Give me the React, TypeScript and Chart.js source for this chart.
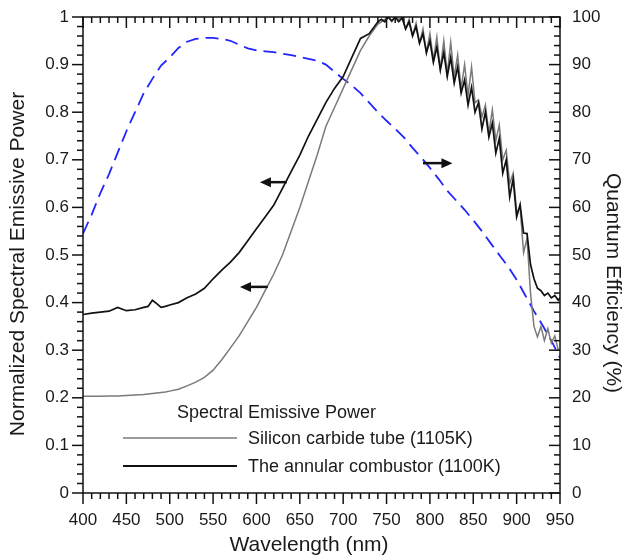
import React, { useEffect, useRef } from "react";
import { Chart, registerables } from "chart.js";
Chart.register(...registerables);

// Wavelength grid (nm) for the two spectral emissive power curves
const wavelengths = [
  400, 410, 420, 430, 440, 450, 460, 470, 475, 480, 485, 490, 495, 500,
  510, 520, 530, 540, 550, 560, 570, 580, 590, 600, 610, 620, 630, 640,
  650, 660, 670, 680, 690, 700, 710, 720, 730, 740,
  744, 748, 752, 756, 760, 764, 768, 772, 776, 780, 784, 788, 792, 796,
  800, 804, 808, 812, 816, 820, 824, 828, 832, 836, 840, 844, 848, 852,
  856, 860, 864, 868, 872, 876, 880, 884, 888, 892, 896, 900, 904, 908,
  912, 916, 920, 924, 928, 932, 936, 940, 944, 948, 950,
];

// The annular combustor (1100K)
const annularCombustor = [
  0.375, 0.378, 0.380, 0.382, 0.390, 0.383, 0.385, 0.390, 0.392, 0.405, 0.398, 0.390, 0.392, 0.395,
  0.400, 0.410, 0.418, 0.430, 0.450, 0.468, 0.485, 0.505, 0.530, 0.555, 0.580, 0.605, 0.640, 0.675,
  0.710, 0.750, 0.785, 0.820, 0.850, 0.875, 0.915, 0.955, 0.965, 0.990,
  0.995, 0.990, 1.000, 0.992, 1.000, 0.990, 0.998, 0.975, 0.990, 0.960, 0.980, 0.945, 0.965, 0.925,
  0.950, 0.905, 0.937, 0.889, 0.925, 0.875, 0.915, 0.861, 0.895, 0.840, 0.868, 0.815, 0.852, 0.800,
  0.820, 0.765, 0.800, 0.748, 0.777, 0.714, 0.745, 0.672, 0.700, 0.622, 0.660, 0.580, 0.606, 0.546,
  0.545, 0.480, 0.450, 0.430, 0.425, 0.415, 0.420, 0.410, 0.415, 0.405, 0.410,
];

// Silicon carbide tube (1105K)
const siliconCarbide = [
  0.203, 0.203, 0.203, 0.204, 0.204, 0.205, 0.206, 0.207, 0.208, 0.209, 0.210, 0.211, 0.212, 0.214,
  0.218, 0.225, 0.233, 0.243, 0.258, 0.280, 0.305, 0.330, 0.360, 0.390, 0.425, 0.460, 0.500, 0.550,
  0.600, 0.655, 0.710, 0.770, 0.810, 0.850, 0.890, 0.930, 0.960, 0.985,
  0.990, 0.995, 1.000, 0.990, 1.000, 0.995, 1.000, 0.975, 0.995, 0.962, 0.987, 0.945, 0.975, 0.925,
  0.965, 0.910, 0.958, 0.890, 0.950, 0.880, 0.947, 0.874, 0.920, 0.850, 0.900, 0.835, 0.895, 0.820,
  0.826, 0.790, 0.815, 0.756, 0.805, 0.740, 0.773, 0.700, 0.720, 0.650, 0.672, 0.590, 0.600, 0.505,
  0.535, 0.420, 0.350, 0.328, 0.350, 0.320, 0.345, 0.315, 0.330, 0.300, 0.300,
];

// Quantum efficiency (%) — right axis
const qeWavelengths = [
  400, 410, 420, 430, 440, 450, 460, 470, 480, 490, 500, 510, 520, 530, 540, 550, 560, 570, 580,
  590, 600, 610, 620, 630, 640, 650, 660, 670, 680, 690, 700, 710, 720, 730, 740, 750, 760, 770,
  780, 790, 800, 810, 820, 830, 840, 850, 860, 870, 880, 890, 900, 910, 920, 930, 940, 950,
];
const quantumEfficiency = [
  54.5, 58.5, 63, 67, 71.5, 76, 80, 84, 87, 89.8, 91.5, 93.5, 94.8, 95.4, 95.6, 95.6, 95.4, 95, 94.2,
  93.4, 93, 92.8, 92.6, 92.3, 92, 91.6, 91.2, 90.8, 90, 88.5, 87, 85.6, 84, 82, 80, 78.2, 76.5, 74.7,
  72.5, 70.5, 68.3, 66, 63.5, 61.5, 59.5, 57.3, 55, 52.5, 50, 47.6, 44.8, 41.5, 38.2, 35.2, 32, 28.4,
];

// Annotation arrows (tail -> head, in data units of x and left y)
const arrowTailX = [635, 613, 792];
const arrowHeadX = [604, 581, 826];
const arrowY = [0.653, 0.433, 0.693];

const legendTitle = "Spectral Emissive Power";
const seriesLabels = ["The annular combustor (1100K)", "Silicon carbide tube (1105K)", "Quantum Efficiency"];
const xTitle = "Wavelength (nm)";
const yTitle = "Normalized Spectral Emissive Power";
const y1Title = "Quantum Efficiency (%)";

const FONT = "'Liberation Sans', Arial, sans-serif";
const BLACK = "#111111";
const GRAY = "#7a7a7a";
const BLUE = "#2424ff";

const decorPlugin = {
  id: "decor",
  afterDraw(chart: any) {
    const ctx = chart.ctx;
    const ca = chart.chartArea;
    const sx = chart.scales.x;
    const sy = chart.scales.y;
    const sy1 = chart.scales.y1;
    ctx.save();
    ctx.strokeStyle = BLACK;
    ctx.lineWidth = 1.5;
    ctx.strokeRect(ca.left, ca.top, ca.right - ca.left, ca.bottom - ca.top);
    const line = (x1: number, y1: number, x2: number, y2: number) => {
      ctx.beginPath();
      ctx.moveTo(x1, y1);
      ctx.lineTo(x2, y2);
      ctx.stroke();
    };
    for (let v = 400; v <= 950; v += 10) {
      const px = sx.getPixelForValue(v);
      const len = v % 50 === 0 ? 11 : 6;
      line(px, ca.bottom, px, ca.bottom + len);
      line(px, ca.top, px, ca.top + len);
    }
    for (let i = 0; i <= 50; i++) {
      const len = i % 5 === 0 ? 11 : 6;
      const py = sy.getPixelForValue(i / 50);
      line(ca.left - len, py, ca.left, py);
      const py1 = sy1.getPixelForValue(i * 2);
      line(ca.right - len, py1, ca.right, py1);
    }

    // arrows
    ctx.fillStyle = BLACK;
    ctx.lineWidth = 2.5;
    for (let i = 0; i < arrowY.length; i++) {
      const x1 = sx.getPixelForValue(arrowTailX[i]);
      const x2 = sx.getPixelForValue(arrowHeadX[i]);
      const py = sy.getPixelForValue(arrowY[i]);
      const dir = Math.sign(x2 - x1);
      const headLen = 11;
      line(x1, py, x2 - dir * headLen + dir * 1, py);
      ctx.beginPath();
      ctx.moveTo(x2, py);
      ctx.lineTo(x2 - dir * headLen, py - 5);
      ctx.lineTo(x2 - dir * headLen, py + 5);
      ctx.closePath();
      ctx.fill();
    }

    // legend
    ctx.fillStyle = "#1a1a1a";
    ctx.font = `18px ${FONT}`;
    ctx.textBaseline = "middle";
    ctx.textAlign = "left";
    ctx.fillText(legendTitle, 177, 413);
    ctx.lineWidth = 1.5;
    ctx.strokeStyle = GRAY;
    line(123, 438, 237, 438);
    ctx.strokeStyle = BLACK;
    ctx.lineWidth = 1.8;
    line(123, 466, 237, 466);
    ctx.fillText(seriesLabels[1], 248, 439);
    ctx.fillText(seriesLabels[0], 248, 467);

    // axis titles
    ctx.font = `21px ${FONT}`;
    ctx.textAlign = "center";
    ctx.fillText(xTitle, 309, 545);
    ctx.save();
    ctx.translate(18, 264);
    ctx.rotate(-Math.PI / 2);
    ctx.fillText(yTitle, 0, 0);
    ctx.restore();
    ctx.save();
    ctx.translate(613, 283);
    ctx.rotate(Math.PI / 2);
    ctx.fillText(y1Title, 0, 0);
    ctx.restore();
    ctx.restore();
  },
};

export default function App() {
  const ref = useRef<HTMLCanvasElement | null>(null);
  useEffect(() => {
    if (!ref.current) return;
    const tickFont = { family: FONT, size: 17 };
    const chart = new Chart(ref.current, {
      type: "line",
      data: {
        datasets: [
          {
            label: seriesLabels[0],
            data: wavelengths.map((x, i) => ({ x, y: annularCombustor[i] })),
            borderColor: BLACK,
            borderWidth: 1.7,
            pointRadius: 0,
            yAxisID: "y",
          },
          {
            label: seriesLabels[1],
            data: wavelengths.map((x, i) => ({ x, y: siliconCarbide[i] })),
            borderColor: GRAY,
            borderWidth: 1.5,
            pointRadius: 0,
            yAxisID: "y",
          },
          {
            label: seriesLabels[2],
            data: qeWavelengths.map((x, i) => ({ x, y: quantumEfficiency[i] })),
            borderColor: BLUE,
            borderWidth: 1.8,
            borderDash: [13, 7],
            pointRadius: 0,
            yAxisID: "y1",
          },
        ],
      },
      options: {
        animation: false,
        responsive: false,
        devicePixelRatio: 1,
        layout: { padding: { top: 17, left: 0, right: 0, bottom: 0 } },
        plugins: { legend: { display: false }, tooltip: { enabled: false } },
        scales: {
          x: {
            type: "linear",
            position: "bottom",
            min: 400,
            max: 950,
            grid: { display: false },
            border: { display: false },
            ticks: { stepSize: 50, font: tickFont, color: "#1a1a1a", padding: 9, maxRotation: 0 },
            afterFit: (s: any) => { s.height = 67; },
          },
          y: {
            type: "linear",
            position: "left",
            min: 0,
            max: 1,
            grid: { display: false },
            border: { display: false },
            ticks: {
              stepSize: 0.1,
              font: tickFont,
              color: "#1a1a1a",
              padding: 6,
              callback: (v: any) => String(Math.round(Number(v) * 10) / 10),
            },
            afterFit: (s: any) => { s.width = 83; },
          },
          y1: {
            type: "linear",
            position: "right",
            min: 0,
            max: 100,
            grid: { display: false },
            border: { display: false },
            ticks: { stepSize: 10, font: tickFont, color: "#1a1a1a", padding: 4 },
            afterFit: (s: any) => { s.width = 64; },
          },
        },
      },
      plugins: [decorPlugin],
    } as any);
    return () => chart.destroy();
  }, []);
  return (
    <div style={{ position: "absolute", left: 0, top: 0, width: 624, height: 560, background: "#fff" }}>
      <canvas ref={ref} width={624} height={560} />
    </div>
  );
}
